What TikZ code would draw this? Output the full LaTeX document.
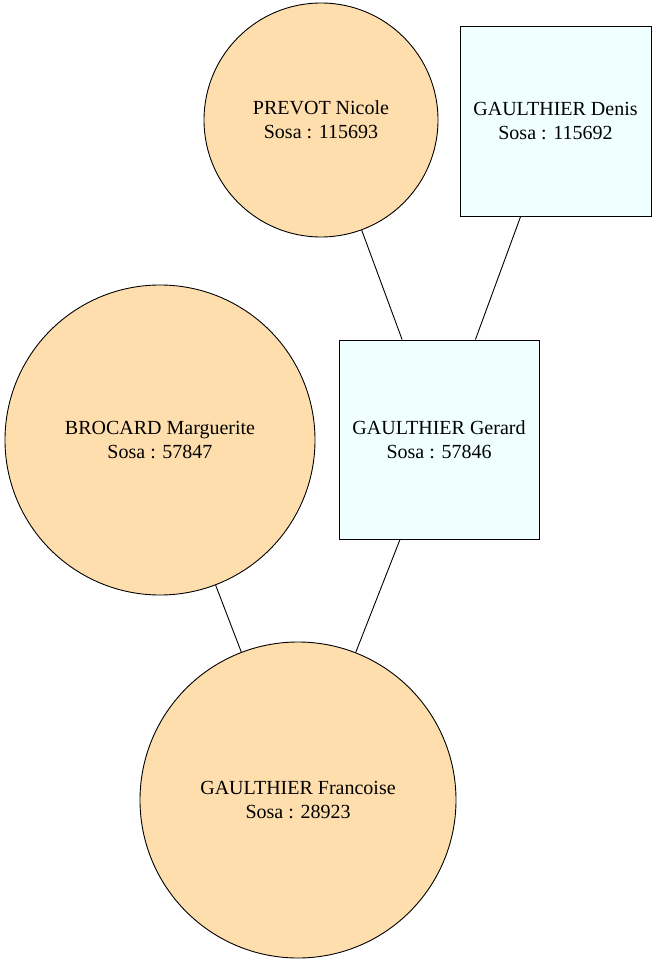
\documentclass[tikz,border=0pt]{standalone}
\usepackage{fontspec}
\setmainfont{Liberation Serif}
\definecolor{fem}{HTML}{FFDEAD}
\definecolor{masc}{HTML}{F0FFFF}
\begin{document}
\begin{tikzpicture}[x=1pt,y=-1pt,
  person/.style={draw=black, line width=0.9pt, inner sep=0pt, align=center, font=\fontsize{20}{24}\selectfont},
  female/.style={person, circle, fill=fem},
  male/.style={person, rectangle, fill=masc},
  link/.style={draw=black, line width=0.9pt}]
\useasboundingbox (0,0) rectangle (657,965);
\node[female, minimum size=234pt] (nicole) at (321,120) {PREVOT Nicole\\Sosa : 115693};
\node[male, minimum width=191pt, minimum height=190pt] (denis) at (555.5,121) {GAULTHIER Denis\\Sosa : 115692};
\node[female, minimum size=310pt] (marguerite) at (160,440) {BROCARD Marguerite\\Sosa : 57847};
\node[male, minimum width=200pt, minimum height=199pt] (gerard) at (439,439.5) {GAULTHIER Gerard\\Sosa : 57846};
\node[female, minimum size=316pt] (francoise) at (298,800) {GAULTHIER Francoise\\Sosa : 28923};
\draw[link] (nicole) -- (gerard);
\draw[link] (denis) -- (gerard);
\draw[link] (marguerite) -- (francoise);
\draw[link] (gerard) -- (francoise);
\end{tikzpicture}
\end{document}
